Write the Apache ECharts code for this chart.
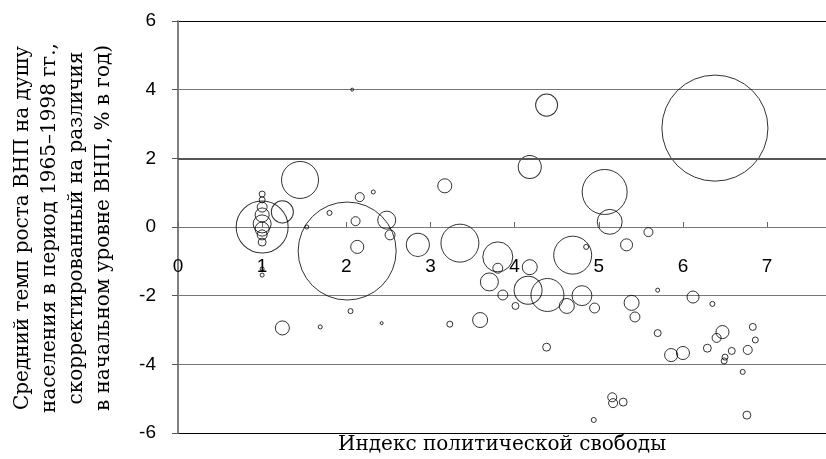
<!DOCTYPE html>
<html>
<head>
<meta charset="utf-8">
<script src="https://cdn.jsdelivr.net/npm/echarts@6/dist/echarts.min.js"></script>
<style>html,body{margin:0;padding:0;background:#fff}#c{width:826px;height:459px}</style>
</head>
<body>
<div id="c"></div>
<script>
// Political freedom index (x)
var freedomIndex = [
  1.00, 1.00, 1.00, 1.00, 1.00, 1.00, 1.00, 1.00, 1.00, 1.00, 1.00,
  1.45, 1.24, 1.53, 1.80, 2.07, 2.16, 2.32, 2.11, 2.48, 2.52, 2.13,
  2.01, 2.85, 3.35, 3.17, 4.18, 4.38, 5.07, 5.13, 5.59, 5.33, 6.38,
  3.80, 3.80, 3.70, 4.18, 3.86, 4.01, 4.16, 4.39, 4.62, 4.80, 4.95,
  4.69, 4.85, 5.70, 5.39, 5.43, 6.12, 6.35, 5.70, 3.59, 4.38, 6.47,
  6.40, 6.83, 6.86, 5.86, 6.00, 6.29, 6.58, 6.50, 6.49, 6.77, 6.71,
  5.16, 5.17, 5.29, 4.94, 6.76, 1.24, 1.69, 2.05, 2.42, 3.23
];
// Adjusted average GDP per capita growth, 1965-1998 (% per year) (y)
var growthRate = [
  0.00, 0.96, 0.79, 0.58, 0.35, 0.09, -0.06, -0.23, -0.44, -1.22, -1.40,
  1.37, 0.44, 0.00, 0.41, 4.00, 0.87, 1.02, 0.17, 0.20, -0.23, -0.58,
  -0.70, -0.52, -0.47, 1.20, 1.75, 3.55, 1.02, 0.15, -0.15, -0.52, 2.88,
  -0.87, -1.20, -1.60, -1.17, -1.98, -2.30, -1.84, -1.98, -2.30, -2.00, -2.36,
  -0.82, -0.58, -1.84, -2.21, -2.62, -2.04, -2.24, -3.09, -2.71, -3.50, -3.06,
  -3.23, -2.91, -3.29, -3.73, -3.67, -3.53, -3.61, -3.79, -3.90, -3.58, -4.22,
  -4.96, -5.13, -5.10, -5.62, -5.48, -2.94, -2.91, -2.45, -2.80, -2.83
];
// Bubble weight (population, millions, estimated)
var population = [
  300, 4, 4, 11, 22, 36, 22, 11, 7, 1.8, 1.8,
  152, 54, 1.8, 2.8, 1, 9, 1.8, 9, 36, 11, 19,
  1067, 59, 160, 22, 59, 54, 225, 69, 9, 16, 1250,
  100, 11, 36, 25, 11, 5.4, 87, 121, 25, 44, 11,
  160, 2.8, 1.8, 25, 11, 16, 2.8, 5.4, 25, 7, 19,
  9, 5.4, 4, 19, 19, 7, 5.4, 4, 4, 9, 2.8,
  9, 9, 7, 2.8, 7, 22, 1.8, 2.8, 1, 4
];
var xTickLabels = ['0', '1', '2', '3', '4', '5', '6', '7'];
var yTickLabels = ['-6', '-4', '-2', '0', '2', '4', '6'];

var points = freedomIndex.map(function (x, i) { return [x, growthRate[i], population[i]]; });

var chart = echarts.init(document.getElementById('c'), null, { renderer: 'canvas' });
var serif = '"DejaVu Serif", "Liberation Serif", serif';
var sans = '"Liberation Sans", Arial, sans-serif';

chart.setOption({
  animation: false,
  backgroundColor: '#fff',
  grid: { left: 178, right: 0, top: 21, bottom: 26, containLabel: false, outerBoundsMode: 'none' },
  xAxis: {
    type: 'value', min: 0, max: 7.70, interval: 1,
    position: 'bottom', offset: -206,
    axisLine: { show: true, onZero: false, lineStyle: { color: '#777', width: 1 } },
    axisTick: { show: true, inside: true, length: 5, lineStyle: { color: '#666' } },
    axisLabel: {
      margin: 30, color: '#000', fontFamily: sans, fontSize: 19, showMaxLabel: false,
      formatter: function (v) { var k = Math.round(v); return Math.abs(v - k) < 1e-6 && xTickLabels[k] !== undefined ? xTickLabels[k] : ''; }
    },
    splitLine: { show: false }
  },
  yAxis: {
    type: 'value', min: -6, max: 6, interval: 2,
    axisLine: { show: true, onZero: false, lineStyle: { color: '#808080', width: 2 } },
    axisTick: { show: true, inside: false, length: 6, lineStyle: { color: '#555' } },
    axisLabel: {
      margin: 22, color: '#000', fontFamily: sans, fontSize: 19,
      formatter: function (v) { var k = Math.round((v + 6) / 2); return yTickLabels[k] !== undefined ? yTickLabels[k] : ''; }
    },
    splitLine: { show: true, lineStyle: { color: ['#000', '#777', '#777', '#777', '#555', '#777', '#000'], width: 1 } }
  },
  graphic: [
    {
      type: 'text', x: 502, y: 445, z: 10,
      style: { text: 'Индекс политической свободы', fill: '#000', font: '20px ' + serif, align: 'center', verticalAlign: 'middle' }
    },
    {
      type: 'text', x: 63, y: 228, rotation: Math.PI / 2, z: 10,
      style: {
        text: 'Средний темп роста ВНП на душу\nнаселения в период 1965–1998 гг.,\nскорректированный на различия\nв начальном уровне ВНП, % в год)',
        fill: '#000', font: '20px ' + serif, lineHeight: 27,
        align: 'center', verticalAlign: 'middle'
      }
    }
  ],
  series: [{
    type: 'scatter',
    data: points,
    symbol: 'circle',
    symbolSize: function (v) { return 3 * Math.sqrt(v[2]); },
    itemStyle: { color: 'rgba(255,255,255,0)', borderColor: '#000', borderWidth: 1 },
    markLine: {
      silent: true, symbol: 'none', label: { show: false },
      lineStyle: { color: '#555', width: 2, type: 'solid' },
      data: [{ yAxis: 2 }]
    }
  }]
});
</script>
</body>
</html>
